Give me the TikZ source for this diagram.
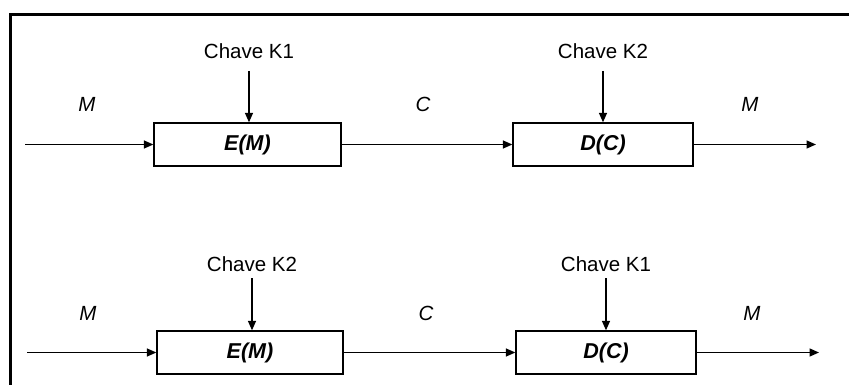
\documentclass[tikz,border=0pt]{standalone}
\usepackage{fontspec}
\setmainfont{Liberation Sans}
\usetikzlibrary{arrows.meta}
\begin{document}
\begin{tikzpicture}[x=1pt,y=-1pt,
  blk/.style={draw,line width=1.3pt,minimum height=43pt,inner sep=0pt,font=\fontsize{21.5}{24}\selectfont\bfseries\itshape},
  lbl/.style={anchor=base,font=\fontsize{20.5}{24}\selectfont},
  vlbl/.style={anchor=base,font=\fontsize{20.5}{24}\selectfont\itshape},
  con/.style={line width=1.4pt,-{Triangle[length=9.5pt,width=8pt]}}]
\useasboundingbox (0,0) rectangle (849,385);
\draw[line width=3pt] (10.5,385) -- (10.5,14.5) -- (849,14.5);
% top row
\node[blk,minimum width=187pt] (E1) at (247.5,144.5) {E(M)};
\node[blk,minimum width=180pt] (D1) at (603,144.5) {D(C)};
\node[lbl] (k1) at (249,59) {Chave K1};
\node[lbl] (k2) at (603,59) {Chave K2};
\node[vlbl] (m1) at (87,112) {M};
\node[vlbl] (c1) at (423,112) {C};
\node[vlbl] (m2) at (750,112) {M};
\coordinate (in1) at (25,144.5);
\coordinate (out1) at (816,144.5);
\coordinate (ka1) at (249,71);
\coordinate (kb1) at (603,71);
\draw[con] (in1) -- (E1.west);
\draw[con] (E1.east) -- (D1.west);
\draw[con] (D1.east) -- (out1);
\draw[con] (ka1) -- (ka1 |- E1.north);
\draw[con] (kb1) -- (kb1 |- D1.north);
% bottom row
\node[blk,minimum width=186pt] (E2) at (250,352.5) {E(M)};
\node[blk,minimum width=180pt] (D2) at (606,352.5) {D(C)};
\node[lbl] (k3) at (252,271) {Chave K2};
\node[lbl] (k4) at (606,271) {Chave K1};
\node[vlbl] (m3) at (88,320) {M};
\node[vlbl] (c2) at (426,320) {C};
\node[vlbl] (m4) at (752,320) {M};
\coordinate (in2) at (27,352.5);
\coordinate (out2) at (819,352.5);
\coordinate (ka2) at (252,278);
\coordinate (kb2) at (606,278);
\draw[con] (in2) -- (E2.west);
\draw[con] (E2.east) -- (D2.west);
\draw[con] (D2.east) -- (out2);
\draw[con] (ka2) -- (ka2 |- E2.north);
\draw[con] (kb2) -- (kb2 |- D2.north);
\end{tikzpicture}
\end{document}
